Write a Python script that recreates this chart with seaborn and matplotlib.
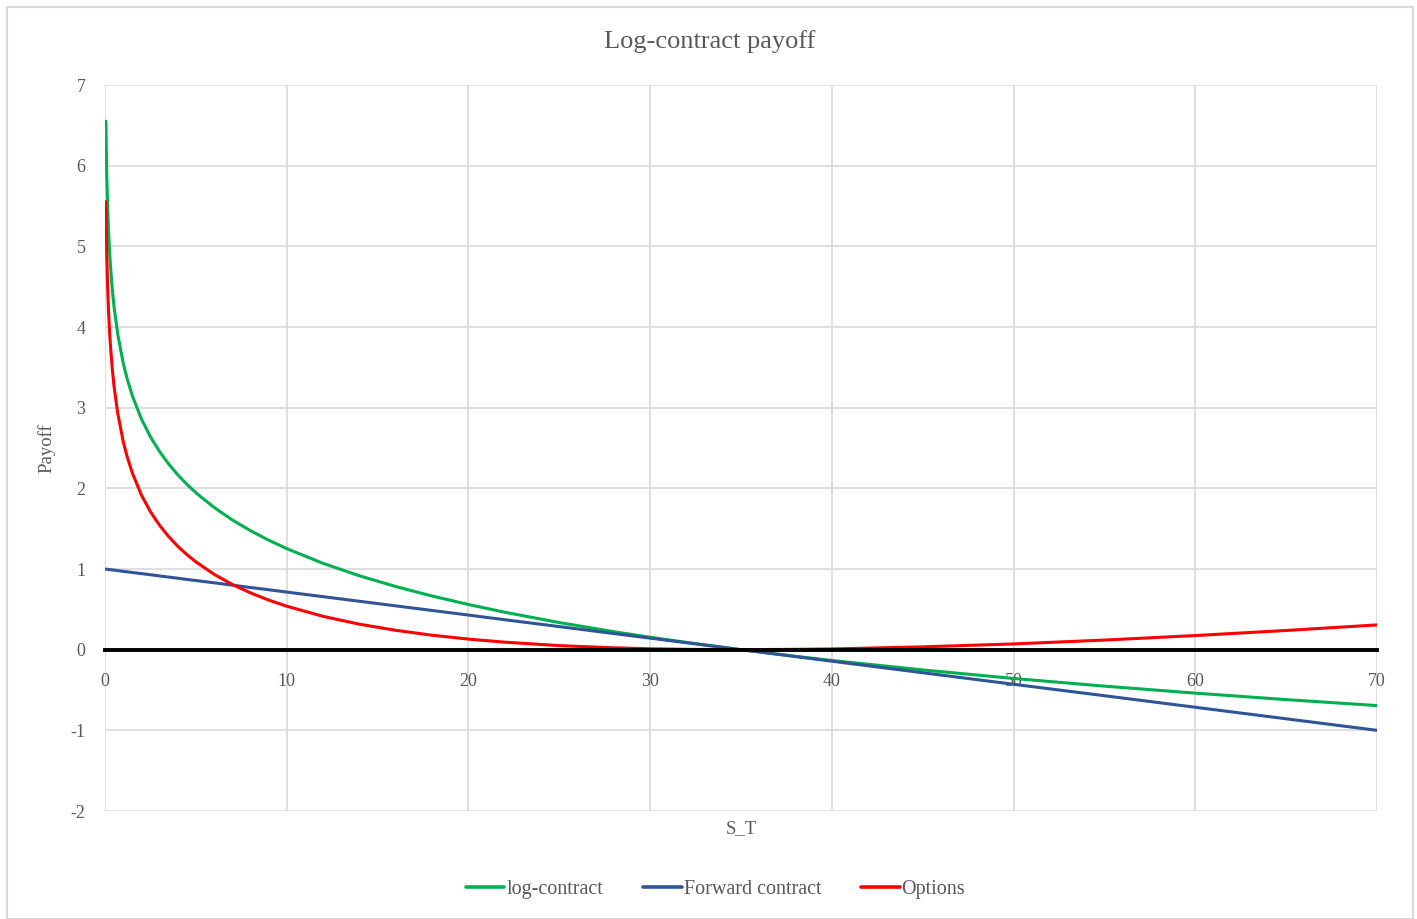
import numpy as np
import pandas as pd
import matplotlib
matplotlib.use('Agg')
import matplotlib.pyplot as plt
from matplotlib.patches import Rectangle
import seaborn as sns

# Valores (S_T e payoffs)
s_t = [0.05, 0.07, 0.1, 0.15, 0.2, 0.25, 0.3, 0.4, 0.5, 0.7, 1, 1.2, 1.5, 2,
       2.5, 3, 3.5, 4, 4.5, 5, 6, 7, 8, 9, 10, 12, 14, 16, 18, 20, 22, 25, 28,
       30, 32, 35, 38, 40, 45, 50, 55, 60, 65, 70]
log_contract = [6.551, 6.215, 5.857, 5.452, 5.165, 4.942, 4.759, 4.472, 4.248,
                3.912, 3.555, 3.373, 3.150, 2.862, 2.639, 2.457, 2.303, 2.169,
                2.051, 1.946, 1.764, 1.609, 1.476, 1.358, 1.253, 1.070, 0.916,
                0.783, 0.665, 0.560, 0.464, 0.336, 0.223, 0.154, 0.090, 0.0,
                -0.082, -0.134, -0.251, -0.357, -0.452, -0.539, -0.619, -0.693]
forward = [0.999, 0.998, 0.997, 0.996, 0.994, 0.993, 0.991, 0.989, 0.986, 0.980,
           0.971, 0.966, 0.957, 0.943, 0.929, 0.914, 0.900, 0.886, 0.871, 0.857,
           0.829, 0.800, 0.771, 0.743, 0.714, 0.657, 0.600, 0.543, 0.486, 0.429,
           0.371, 0.286, 0.200, 0.143, 0.086, 0.0, -0.086, -0.143, -0.286,
           -0.429, -0.571, -0.714, -0.857, -1.0]
options = [5.552, 5.217, 4.860, 4.456, 4.170, 3.949, 3.768, 3.483, 3.262, 2.932,
           2.584, 2.407, 2.193, 1.919, 1.710, 1.543, 1.403, 1.283, 1.180, 1.089,
           0.935, 0.809, 0.705, 0.615, 0.539, 0.413, 0.316, 0.240, 0.179, 0.131,
           0.093, 0.050, 0.023, 0.011, 0.004, 0.0, 0.004, 0.009, 0.035, 0.071,
           0.119, 0.175, 0.238, 0.307]

series_names = ['log-contract', 'Forward contract', 'Options']
colors = ['#00B050', '#2F5597', '#FF0000']
x_ticks = [0, 10, 20, 30, 40, 50, 60, 70]
y_ticks = [-2, -1, 0, 1, 2, 3, 4, 5, 6, 7]

df = pd.DataFrame({
    'S_T': s_t * 3,
    'Payoff': log_contract + forward + options,
    'serie': [n for n in series_names for _ in s_t],
})

sns.set_theme(style='whitegrid')
plt.rcParams['font.family'] = ['Liberation Serif', 'DejaVu Serif']
plt.rcParams['axes.unicode_minus'] = False
text_gray = '#595959'
grid_gray = '#D9D9D9'

fig = plt.figure(figsize=(14.17, 9.19), dpi=100)
ax = fig.add_axes([105 / 1417, 1 - 811 / 919, 1272 / 1417, 726 / 919])

sns.lineplot(data=df, x='S_T', y='Payoff', hue='serie', hue_order=series_names,
             palette=colors, linewidth=2.2, ax=ax, legend=False, sort=False)

ax.set_xlim(0, 70)
ax.set_ylim(-2, 7)
ax.set_xticks(x_ticks)
ax.set_yticks(y_ticks)
ax.grid(True, color=grid_gray, linewidth=1.2)
for side in ['top', 'left', 'right']:
    ax.spines[side].set_visible(False)
ax.spines['bottom'].set_position(('data', 0))
ax.spines['bottom'].set_color('black')
ax.spines['bottom'].set_linewidth(2.8)
ax.tick_params(axis='x', length=0, pad=17, labelsize=13, labelcolor=text_gray)
ax.tick_params(axis='y', length=0, pad=14, labelsize=13, labelcolor=text_gray)

ax.set_xlabel('S_T', fontsize=13.5, color=text_gray)
ax.xaxis.set_label_coords(0.5, -0.012)
ax.set_ylabel('Payoff', fontsize=13.5, color=text_gray)
ax.yaxis.set_label_coords(-0.039, 0.5)

fig.text(0.501, 1 - 42 / 919, 'Log-contract payoff', ha='center', va='center',
         fontsize=19, color=text_gray)

handles = [plt.Line2D([], [], color=c, linewidth=2.6) for c in colors]
fig.legend(handles, series_names, loc='center', bbox_to_anchor=(0.505, 1 - 889 / 919),
           ncol=3, frameon=False, fontsize=14.5, handlelength=1.9, handletextpad=0.1,
           columnspacing=2.0, labelcolor=text_gray)

fig.patches.append(Rectangle((7 / 1417, 0), 1406 / 1417, 1 - 7 / 919,
                             transform=fig.transFigure, fill=False,
                             edgecolor=grid_gray, linewidth=1.5))

fig.savefig('out.png', dpi=100)
